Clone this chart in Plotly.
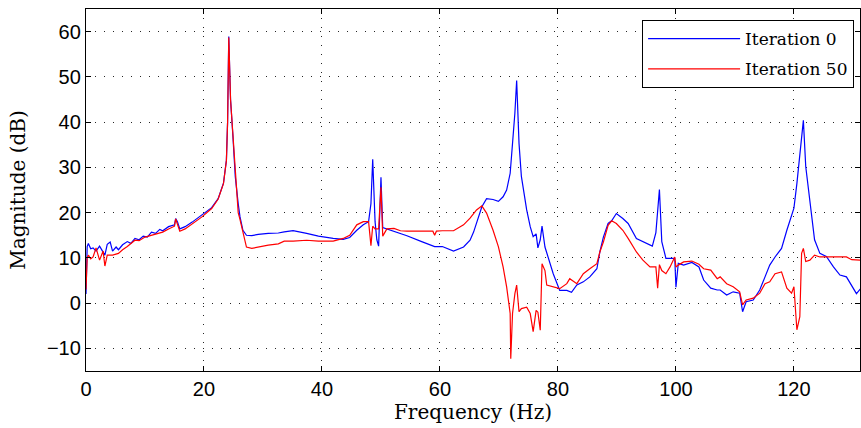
import plotly.graph_objects as go

# Iteration 0 (blue)
freq_it0 = [0.0, 0.2, 0.4, 0.8, 1.2, 1.7, 2.3, 2.9, 3.2, 3.6, 4.1, 4.5, 5.1, 5.5, 6.2, 7.0, 7.6, 8.3, 9.0, 9.7, 10.4, 11.1, 11.8, 12.5, 13.0, 14.0,
            15.0, 15.2, 15.5, 15.9, 16.8, 18.0, 19.6, 21.3, 22.4, 23.3, 23.8, 24.0, 24.2, 24.5, 24.9, 25.3, 25.8, 26.1, 26.6, 27.2, 28.1,
            29.2, 30.9, 32.6, 33.6, 35.1, 37.4, 39.4, 41.9, 43.6, 44.7, 45.9, 47.0, 47.9, 48.3, 48.6, 49.0, 49.3, 49.6, 50.0, 50.3, 51.0,
            52.2, 53.3, 54.4, 56.9, 59.1, 60.4, 62.3, 64.0, 65.1, 65.7, 66.2, 67.1, 67.9, 69.0, 69.9, 70.7, 71.3, 71.9, 72.3, 72.7, 73.0,
            73.4, 73.8, 74.7, 75.3, 75.8, 76.3, 76.6, 77.0, 77.3, 77.8, 79.2, 80.3, 81.5, 82.3, 83.2, 84.3, 85.4, 86.6, 87.1, 87.7, 88.5,
            89.1, 89.9, 91.0, 91.9, 93.3, 94.4, 95.6, 96.0, 96.6, 97.2, 97.6, 98.3, 99.0, 99.8, 100.0, 100.4, 101.3, 102.7, 103.9, 104.7,
            105.9, 107.0, 107.5, 108.6, 109.7, 110.8, 111.3, 111.9, 113.1, 114.2, 115.1, 115.9, 116.8, 117.9, 118.8, 119.6, 120.0, 120.5,
            121.0, 121.3, 121.6, 122.0, 122.7, 123.5, 124.4, 125.5, 126.7, 127.8, 128.9, 129.8, 130.6, 131.3]
mag_it0 = [2.0, 12.5, 13.2, 12.0, 12.2, 11.5, 12.6, 11.4, 10.6, 13.0, 13.5, 11.5, 12.4, 11.8, 12.9, 13.6, 13.2, 14.3, 14.0, 14.8, 14.6, 15.7, 15.4, 16.3, 16.0, 16.9,
           17.3, 18.7, 18.0, 16.4, 16.9, 17.9, 19.4, 21.1, 23.1, 26.5, 31.6, 40.0, 58.9, 45.0, 37.0, 28.0, 22.0, 19.1, 16.1, 15.0, 14.9,
           15.2, 15.4, 15.5, 15.75, 16.0, 15.4, 14.8, 14.3, 14.1, 14.5, 16.1, 17.3, 18.0, 22.0, 31.8, 18.0, 14.0, 12.6, 27.8, 16.7, 16.4,
           16.0, 15.4, 14.9, 13.6, 12.5, 12.5, 11.5, 12.4, 13.9, 15.7, 17.6, 21.3, 23.1, 22.9, 22.5, 23.5, 25.0, 28.7, 35.3, 42.0, 49.2,
           35.3, 28.0, 20.6, 16.9, 14.7, 15.3, 12.2, 14.0, 17.0, 12.4, 6.5, 2.8, 2.8, 2.4, 4.0, 4.7, 5.8, 7.6, 11.3, 14.6, 17.6,
           18.2, 19.8, 18.7, 17.6, 14.3, 13.6, 12.8, 12.6, 15.6, 25.1, 13.6, 9.9, 9.9, 9.9, 3.5, 8.8, 8.4, 9.0, 8.0, 5.1,
           3.3, 2.9, 2.9, 1.8, 2.5, 2.2, -1.9, 0.3, 0.7, 2.9, 5.8, 8.4, 10.2, 12.1, 16.1, 19.1, 21.0, 26.4,
           33.1, 37.5, 40.4, 30.2, 22.8, 14.0, 11.0, 10.3, 8.0, 6.2, 5.8, 3.9, 2.1, 3.2]

# Iteration 50 (red)
freq_it50 = [0.0, 0.2, 0.4, 0.8, 1.2, 1.7, 2.3, 2.9, 3.2, 3.6, 4.5, 5.5, 6.2, 7.0, 8.3, 9.0, 10.0, 11.1, 12.0, 13.0, 14.0, 15.0, 15.2,
             15.5, 15.9, 16.8, 18.0, 19.6, 21.3, 22.4, 23.3, 23.8, 24.0, 24.2, 24.5, 24.9, 25.3, 25.8, 26.1, 26.6, 27.2, 28.1, 29.2, 30.9,
             32.6, 33.6, 35.1, 37.4, 39.4, 41.9, 43.6, 44.7, 45.9, 47.0, 47.9, 48.3, 48.6, 49.0, 49.6, 50.0, 50.3, 51.0, 52.2, 53.3, 54.4,
             56.9, 58.8, 59.1, 59.4, 60.4, 62.3, 64.0, 65.1, 66.2, 67.1, 67.9, 69.0, 69.9, 70.7, 71.3, 71.9, 72.0, 72.3, 72.7, 73.0, 73.4,
             73.8, 74.7, 75.3, 75.8, 76.3, 76.6, 77.0, 77.3, 77.8, 78.1, 79.2, 80.3, 81.5, 82.0, 83.2, 84.3, 85.4, 86.6, 87.1, 87.7, 88.5,
             89.1, 89.9, 91.0, 91.9, 93.3, 94.4, 95.6, 96.6, 96.9, 97.2, 97.6, 98.3, 99.0, 99.8, 100.0, 100.4, 101.3, 102.7, 103.9, 104.7,
             105.9, 107.0, 107.5, 108.6, 109.7, 110.8, 111.3, 111.9, 113.1, 114.2, 115.1, 115.9, 116.8, 117.9, 118.8, 119.6, 120.0, 120.5,
             121.0, 121.3, 121.6, 122.0, 122.7, 123.5, 124.4, 125.5, 126.7, 127.8, 128.9, 129.8, 130.6, 131.3]
mag_it50 = [3.0, 10.0, 10.6, 9.8, 10.2, 12.2, 9.5, 11.5, 8.2, 10.6, 10.6, 11.0, 11.8, 12.5, 13.9, 13.8, 14.6, 15.0, 15.2, 15.7, 16.4, 17.0, 18.6,
            17.2, 15.9, 16.4, 17.5, 19.0, 20.9, 23.0, 26.4, 31.5, 40.0, 58.7, 45.0, 37.6, 28.0, 20.0, 18.5, 15.5, 12.4, 12.1, 12.4, 12.8,
            13.1, 13.7, 13.7, 13.9, 13.7, 13.7, 14.3, 15.0, 17.3, 18.0, 18.0, 12.7, 17.0, 16.4, 16.4, 25.6, 14.8, 16.4, 16.5, 16.0, 15.9,
            15.9, 15.9, 15.0, 15.9, 16.0, 16.0, 17.3, 18.8, 20.6, 21.5, 19.9, 16.1, 12.5, 8.0, 3.6, -2.3, -12.3, -2.3, 2.1, 4.0, -1.9,
            -1.2, -0.9, -2.3, -6.3, -1.6, -2.0, -6.0, 8.7, 7.2, 4.0, 3.6, 3.2, 4.3, 5.4, 4.3, 6.5, 7.6, 8.7, 11.3, 13.5, 17.2,
            18.2, 17.6, 16.1, 14.3, 11.3, 9.5, 8.0, 8.0, 3.3, 8.5, 7.2, 6.5, 8.0, 10.2, 8.0, 8.4, 9.1, 9.3, 8.6, 7.6,
            7.3, 5.4, 5.8, 4.3, 3.6, 2.5, -0.4, 0.7, 1.1, 2.2, 4.3, 4.7, 6.5, 6.9, 3.3, 2.2, 3.6, -5.9,
            -3.0, 11.0, 12.1, 9.2, 9.5, 10.6, 10.2, 10.2, 10.2, 10.2, 10.2, 9.6, 9.5, 9.5]

x_ticks = [0, 20, 40, 60, 80, 100, 120]
y_ticks = [-10, 0, 10, 20, 30, 40, 50, 60]

fig = go.Figure()
fig.add_trace(go.Scatter(x=freq_it0, y=mag_it0, mode="lines", name="Iteration 0", legendgroup="a",
                         line=dict(color="#0000ff", width=1.2)))
fig.add_trace(go.Scatter(x=freq_it50, y=mag_it50, mode="lines", name="Iteration 50", legendgroup="b",
                         line=dict(color="#ff0000", width=1.2)))

axis_common = dict(showline=True, linecolor="black", linewidth=1.3, mirror="ticks",
                   ticks="inside", ticklen=5, tickcolor="black", tickwidth=1,
                   showgrid=True, gridcolor="rgba(0,0,0,0.85)", gridwidth=1, griddash="1px,8px",
                   zeroline=False,
                   tickfont=dict(family="Liberation Sans, Arial, sans-serif", size=20, color="black"))

fig.update_xaxes(range=[0, 131.2], tickvals=x_ticks,
                 title=dict(text="Frequency (Hz)", font=dict(family="DejaVu Serif, serif", size=20, color="black"), standoff=5),
                 **axis_common)
fig.update_yaxes(range=[-15, 65], tickvals=y_ticks,
                 title=dict(text="Magnitude (dB)", font=dict(family="DejaVu Serif, serif", size=20, color="black"), standoff=15),
                 **axis_common)

fig.update_layout(
    width=861, height=428,
    margin=dict(l=86, r=1, t=9, b=57, autoexpand=False),
    plot_bgcolor="white", paper_bgcolor="white",
    showlegend=True,
    legend=dict(x=0.992, y=0.97, xanchor="right", yanchor="top",
                bgcolor="white", bordercolor="black", borderwidth=1.3,
                font=dict(family="DejaVu Serif, serif", size=17, color="black"),
                itemwidth=92, traceorder="grouped", tracegroupgap=5),
)

fig.write_html("out.html", config={"displayModeBar": False},
               post_script="document.body.style.margin='0';document.body.style.overflow='hidden';")
